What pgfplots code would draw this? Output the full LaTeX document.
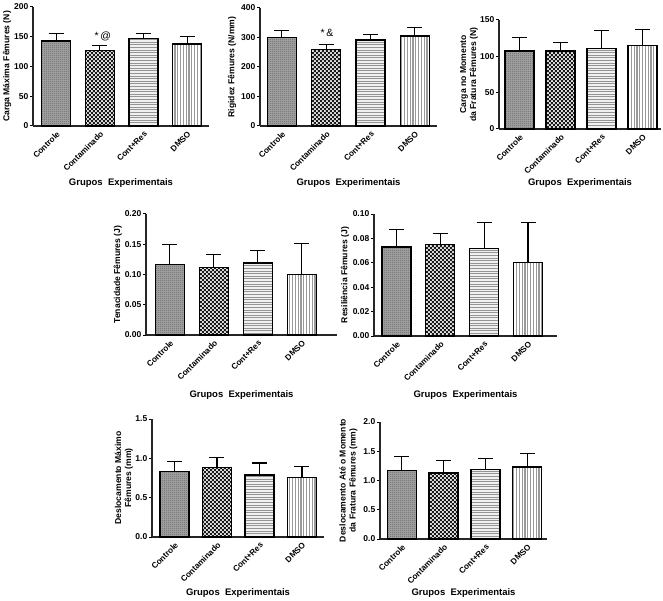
\documentclass[border=0pt]{standalone}
\usepackage{pgfplots}
\pgfplotsset{compat=1.18}
\usetikzlibrary{patterns}
\usepackage{fontspec}
\setmainfont{Liberation Sans}
\pgfdeclarepatternformonly{finechecker}{\pgfpointorigin}{\pgfqpoint{2pt}{2pt}}{\pgfqpoint{2pt}{2pt}}{%
  \pgfpathrectangle{\pgfpointorigin}{\pgfqpoint{1pt}{1pt}}%
  \pgfpathrectangle{\pgfqpoint{1pt}{1pt}}{\pgfqpoint{1pt}{1pt}}%
  \pgfusepath{fill}}
\pgfdeclarepatternformonly{smallchecker}{\pgfpointorigin}{\pgfqpoint{4.4pt}{4.4pt}}{\pgfqpoint{4.4pt}{4.4pt}}{%
  \pgfpathrectangle{\pgfpointorigin}{\pgfqpoint{2.2pt}{2.2pt}}%
  \pgfpathrectangle{\pgfqpoint{2.2pt}{2.2pt}}{\pgfqpoint{2.2pt}{2.2pt}}%
  \pgfusepath{fill}}
\pgfdeclarepatternformonly{hlinesB}{\pgfqpoint{-1pt}{-1pt}}{\pgfqpoint{5pt}{3.6pt}}{\pgfqpoint{4pt}{2.6pt}}{%
  \pgfsetlinewidth{1.1pt}%
  \pgfpathmoveto{\pgfqpoint{-0.5pt}{1.3pt}}\pgfpathlineto{\pgfqpoint{4.5pt}{1.3pt}}\pgfusepath{stroke}}
\pgfdeclarepatternformonly{vlinesB}{\pgfqpoint{-1pt}{-1pt}}{\pgfqpoint{3.8pt}{5pt}}{\pgfqpoint{2.8pt}{4pt}}{%
  \pgfsetlinewidth{1.1pt}%
  \pgfpathmoveto{\pgfqpoint{1.4pt}{-0.5pt}}\pgfpathlineto{\pgfqpoint{1.4pt}{4.5pt}}\pgfusepath{stroke}}
\pgfplotsset{
 myax/.style={
  scale only axis, ybar, bar shift=0pt, bar width=29pt,
  axis x line*=bottom, axis y line*=left,
  axis line style={line width=1.1pt, -, black!85},
  xtick={0,1,2,3}, xticklabels={Controle,Contaminado,Cont+Res,DMSO},
  xticklabel style={rotate=45, anchor=north east, font=\bfseries\fontsize{8.2}{9}\selectfont, inner sep=1pt},
  x tick style={draw=none},
  ymin=0,
  y tick style={line width=1pt, black}, tick align=outside, major tick length=3pt,
  yticklabel style={font=\bfseries\fontsize{8.5}{9}\selectfont, inner sep=1.5pt},
  label style={font=\bfseries\fontsize{8.6}{10}\selectfont, align=center},
  ylabel style={anchor=center},
  xlabel style={anchor=center, font=\bfseries\fontsize{9.5}{10}\selectfont},
  /pgf/number format/assume math mode=true,
  error bars/y dir=plus, error bars/y explicit,
  error bars/error bar style={line width=1.2pt, black},
  error bars/error mark options={rotate=90, mark size=7.5pt, line width=1.2pt, black},
  clip=false,
 },
 ctrl/.style={draw=black, line width=1.3pt, fill=black!35, postaction={pattern=finechecker, pattern color=black!62}},
 cont/.style={draw=black, line width=1.3pt, fill=black!12, postaction={pattern=smallchecker, pattern color=black!90}},
 cres/.style={draw=black, line width=1.3pt, fill=black!6, postaction={pattern=hlinesB, pattern color=black!42}},
 dmso/.style={draw=black, line width=1.3pt, fill=white, postaction={pattern=vlinesB, pattern color=black!40}},
}
\begin{document}
\begin{tikzpicture}
\useasboundingbox (0pt,0pt) rectangle (663pt,600pt);
% Panel 1
\begin{axis}[myax, at={(33pt,474pt)}, anchor=south west, width=176pt, height=119pt,
  xmin=-0.53, xmax=3.5, ymax=200, ytick={0,50,100,150,200},
  ylabel={Carga Máxima Fêmures (N)}, ylabel style={at={(axis description cs:-0.148,0.5)}},
  xlabel={Grupos\ \ Experimentais}, xlabel style={at={(axis description cs:0.5,-0.479)}}]
\addplot[ctrl] coordinates {(0,143) +- (0,12)};
\addplot[cont] coordinates {(1,127) +- (0,8)};
\addplot[cres] coordinates {(2,147) +- (0,9)};
\addplot[dmso] coordinates {(3,138) +- (0,12.5)};
\node[font=\fontsize{10.5}{10}\selectfont] at (axis cs:1.07,151) {*\,@};
\end{axis}
% Panel 2
\begin{axis}[myax, at={(260pt,474pt)}, anchor=south west, width=177pt, height=118pt,
  xmin=-0.49, xmax=3.5, ymax=400, ytick={0,100,200,300,400},
  ylabel={Rigidez Fêmures (N/mm)}, ylabel style={at={(axis description cs:-0.158,0.5)}},
  xlabel={Grupos\ \ Experimentais}, xlabel style={at={(axis description cs:0.5,-0.483)}}]
\addplot[ctrl] coordinates {(0,301) +- (0,24)};
\addplot[cont] coordinates {(1,259) +- (0,18)};
\addplot[cres] coordinates {(2,292) +- (0,19)};
\addplot[dmso] coordinates {(3,305) +- (0,30)};
\node[font=\fontsize{10.5}{10}\selectfont] at (axis cs:1.02,315) {*\,\&};
\end{axis}
% Panel 3
\begin{axis}[myax, at={(499pt,471pt)}, anchor=south west, width=162pt, height=109pt,
  xmin=-0.5, xmax=3.45, ymax=150, ytick={0,50,100,150},
  ylabel={Carga no Momento\\da Fratura Fêmures (N)}, ylabel style={at={(axis description cs:-0.185,0.5)}},
  xlabel={Grupos\ \ Experimentais}, xlabel style={at={(axis description cs:0.5,-0.495)}}]
\addplot[ctrl] coordinates {(0,107.5) +- (0,18)};
\addplot[cont] coordinates {(1,107.5) +- (0,12)};
\addplot[cres] coordinates {(2,111) +- (0,24)};
\addplot[dmso] coordinates {(3,114.5) +- (0,22.5)};
\end{axis}
% Panel 4
\begin{axis}[myax, at={(146pt,265pt)}, anchor=south west, width=191pt, height=121pt,
  xmin=-0.54, xmax=3.8, ymax=0.2, ytick={0,0.05,0.10,0.15,0.20},
  yticklabel style={/pgf/number format/.cd, fixed, fixed zerofill, precision=2},
  ylabel={Tenacidade Fêmures (J)}, ylabel style={at={(axis description cs:-0.147,0.5)}},
  xlabel={Grupos\ \ Experimentais}, xlabel style={at={(axis description cs:0.5,-0.496)}}]
\addplot[ctrl] coordinates {(0,0.117) +- (0,0.033)};
\addplot[cont] coordinates {(1,0.111) +- (0,0.022)};
\addplot[cres] coordinates {(2,0.119) +- (0,0.021)};
\addplot[dmso] coordinates {(3,0.0995) +- (0,0.052)};
\end{axis}
% Panel 5
\begin{axis}[myax, at={(374pt,264pt)}, anchor=south west, width=183pt, height=122pt,
  xmin=-0.51, xmax=3.66, ymax=0.1, ytick={0,0.02,0.04,0.06,0.08,0.10},
  yticklabel style={/pgf/number format/.cd, fixed, fixed zerofill, precision=2},
  ylabel={Resiliência Fêmures (J)}, ylabel style={at={(axis description cs:-0.158,0.5)}},
  xlabel={Grupos\ \ Experimentais}, xlabel style={at={(axis description cs:0.5,-0.484)}}]
\addplot[ctrl] coordinates {(0,0.073) +- (0,0.0145)};
\addplot[cont] coordinates {(1,0.075) +- (0,0.009)};
\addplot[cres] coordinates {(2,0.072) +- (0,0.021)};
\addplot[dmso] coordinates {(3,0.0605) +- (0,0.0325)};
\end{axis}
% Panel 6
\begin{axis}[myax, at={(152pt,63pt)}, anchor=south west, width=172pt, height=118pt,
  xmin=-0.53, xmax=3.52, ymax=1.5, ytick={0,0.5,1.0,1.5},
  yticklabel style={/pgf/number format/.cd, fixed, fixed zerofill, precision=1},
  ylabel={Deslocamento Máximo\\Fêmures (mm)}, ylabel style={at={(axis description cs:-0.163,0.5)}},
  xlabel={Grupos\ \ Experimentais}, xlabel style={at={(axis description cs:0.5,-0.475)}}]
\addplot[ctrl] coordinates {(0,0.83) +- (0,0.13)};
\addplot[cont] coordinates {(1,0.88) +- (0,0.13)};
\addplot[cres] coordinates {(2,0.79) +- (0,0.15)};
\addplot[dmso] coordinates {(3,0.76) +- (0,0.14)};
\end{axis}
% Panel 7
\begin{axis}[myax, at={(380pt,61pt)}, anchor=south west, width=167pt, height=117pt,
  xmin=-0.52, xmax=3.47, ymax=2.0, ytick={0,0.5,1.0,1.5,2.0},
  yticklabel style={/pgf/number format/.cd, fixed, fixed zerofill, precision=1},
  ylabel={Deslocamento Até o Momento\\da Fratura Fêmures (mm)}, ylabel style={at={(axis description cs:-0.19,0.5)}},
  xlabel={Grupos\ \ Experimentais}, xlabel style={at={(axis description cs:0.5,-0.46)}}]
\addplot[ctrl] coordinates {(0,1.17) +- (0,0.24)};
\addplot[cont] coordinates {(1,1.13) +- (0,0.21)};
\addplot[cres] coordinates {(2,1.19) +- (0,0.18)};
\addplot[dmso] coordinates {(3,1.23) +- (0,0.23)};
\end{axis}
\end{tikzpicture}
\end{document}
